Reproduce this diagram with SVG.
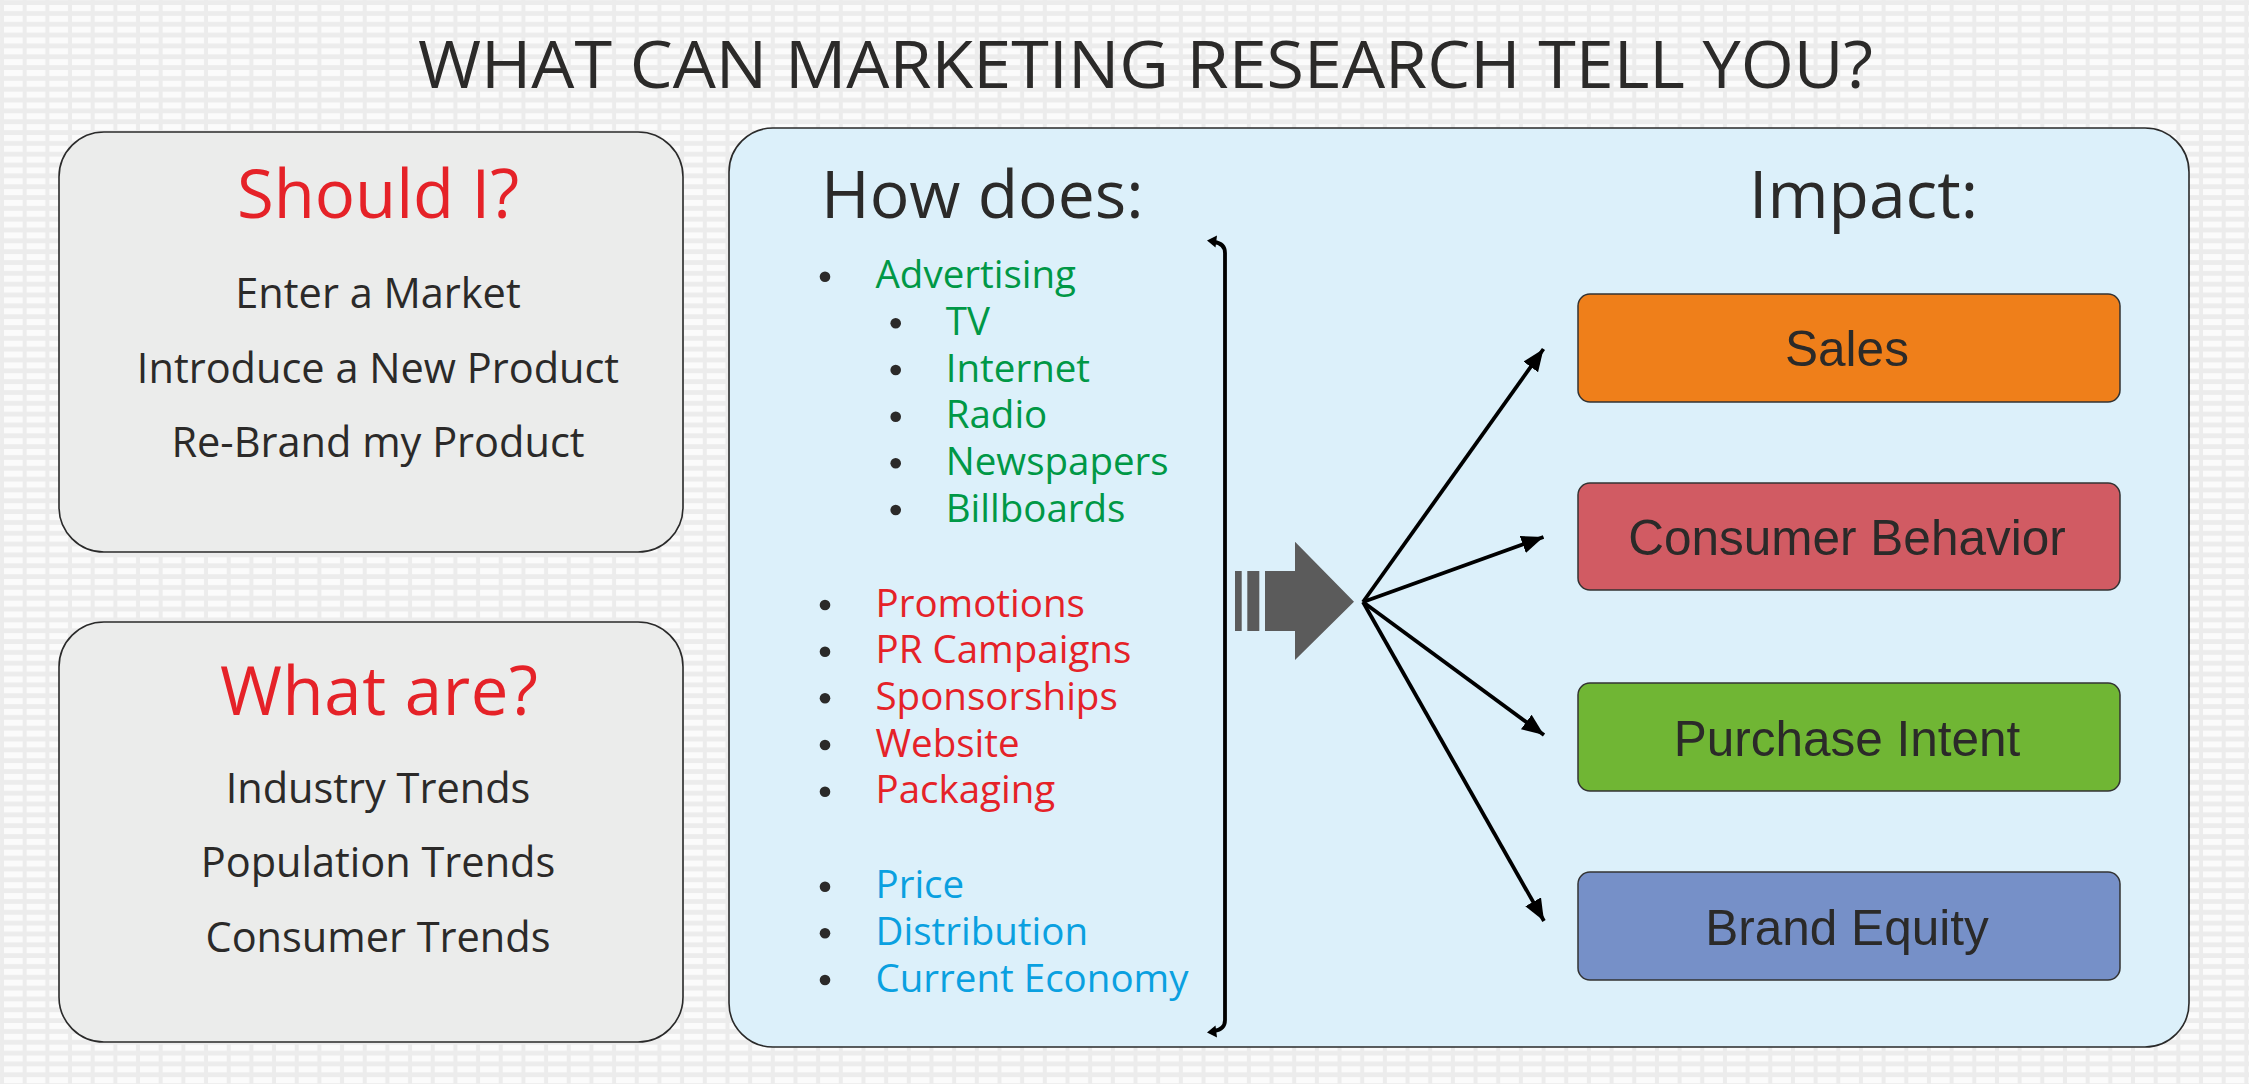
<svg xmlns="http://www.w3.org/2000/svg" width="2249" height="1084" viewBox="0 0 2249 1084">
<defs>
<pattern id="dash" patternUnits="userSpaceOnUse" x="4" y="5" width="22.67" height="10.83">
<rect x="0" y="0" width="18.67" height="6" fill="#fbfbfb"/>
</pattern>
<marker id="ah" markerUnits="userSpaceOnUse" markerWidth="24" markerHeight="20" refX="22" refY="9" orient="auto">
<path d="M0,0 L22,9 L0,18 Z" fill="#000"/>
</marker>
</defs>
<style>
.frut{font-family:"Open Sans","Noto Sans",sans-serif}
.ar{font-family:"Liberation Sans",Arial,sans-serif;font-size:49.5px;fill:#2b2a29;text-anchor:middle}
.dark{fill:#2b2a29}
.red{fill:#e52228}
.grn{fill:#009846}
.blu{fill:#0aa0e0}
.panel{stroke:#2a2a2a;stroke-width:1.6}
.imp{stroke:#333;stroke-width:1.5}
.bul{fill:#2b2a29}
.li{font-size:38.5px}
.conn{stroke:#000;stroke-width:3.8;fill:none}
</style>
<rect width="2249" height="1084" fill="#ececec"/>
<rect width="2249" height="1084" fill="url(#dash)"/>

<text class="frut dark" x="418" y="88" font-size="66" textLength="1455" lengthAdjust="spacingAndGlyphs">WHAT CAN MARKETING RESEARCH TELL YOU?</text>

<g id="should">
<rect class="panel" x="59" y="132" width="624" height="420" rx="45" fill="#ebeceb"/>
<text class="frut red" x="378" y="218" font-size="67" text-anchor="middle">Should I?</text>
<text class="frut dark" x="378" y="308" font-size="41.5" text-anchor="middle">Enter a Market</text>
<text class="frut dark" x="378" y="383" font-size="41.5" text-anchor="middle">Introduce a New Product</text>
<text class="frut dark" x="378" y="457" font-size="41.5" text-anchor="middle">Re-Brand my Product</text>
</g>

<g id="whatare">
<rect class="panel" x="59" y="622" width="624" height="420" rx="45" fill="#ebeceb"/>
<text class="frut red" x="379" y="715" font-size="67" text-anchor="middle" textLength="318">What are?</text>
<text class="frut dark" x="378" y="803" font-size="41.5" text-anchor="middle">Industry Trends</text>
<text class="frut dark" x="378" y="877" font-size="41.5" text-anchor="middle">Population Trends</text>
<text class="frut dark" x="378" y="952" font-size="41.5" text-anchor="middle">Consumer Trends</text>
</g>

<g id="main">
<rect class="panel" x="729" y="128" width="1460" height="919" rx="44" fill="#dcf0fa"/>
<text class="frut dark" x="821" y="218" font-size="66">How does:</text>
<text class="frut dark" x="1749" y="218" font-size="66">Impact:</text>
</g>

<g id="list">
<g class="bul">
<circle cx="825" cy="276.7" r="5.3"/>
<circle cx="895.7" cy="323.3" r="5.3"/>
<circle cx="895.7" cy="370" r="5.3"/>
<circle cx="895.7" cy="416.7" r="5.3"/>
<circle cx="895.7" cy="463.3" r="5.3"/>
<circle cx="895.7" cy="510" r="5.3"/>
<circle cx="825" cy="605" r="5.3"/>
<circle cx="825" cy="651.7" r="5.3"/>
<circle cx="825" cy="698.3" r="5.3"/>
<circle cx="825" cy="745" r="5.3"/>
<circle cx="825" cy="791.7" r="5.3"/>
<circle cx="825" cy="886.7" r="5.3"/>
<circle cx="825" cy="933.3" r="5.3"/>
<circle cx="825" cy="980" r="5.3"/>
</g>
<g class="frut li">
<text class="grn" x="875.5" y="288.3">Advertising</text>
<text class="grn" x="945.7" y="335">TV</text>
<text class="grn" x="945.7" y="381.7">Internet</text>
<text class="grn" x="945.7" y="428.3">Radio</text>
<text class="grn" x="945.7" y="475">Newspapers</text>
<text class="grn" x="945.7" y="521.7">Billboards</text>
<text class="red" x="875.5" y="616.7">Promotions</text>
<text class="red" x="875.5" y="663.3">PR Campaigns</text>
<text class="red" x="875.5" y="710">Sponsorships</text>
<text class="red" x="875.5" y="756.7">Website</text>
<text class="red" x="875.5" y="803.3">Packaging</text>
<text class="blu" x="875.5" y="898.3">Price</text>
<text class="blu" x="875.5" y="945">Distribution</text>
<text class="blu" x="875.5" y="991.7">Current Economy</text>
</g>
</g>

<g id="brace">
<path class="conn" d="M1225,1020 V253 Q1225,243.5 1214,242"/>
<path d="M1207,240.5 L1217,235.5 L1215.5,247.5 Z" fill="#000"/>
<path class="conn" d="M1225,1020 Q1225,1029.5 1214,1031"/>
<path d="M1207,1032.5 L1217,1037.5 L1215.5,1025.5 Z" fill="#000"/>
</g>

<g id="bigarrow" fill="#5b5b5b">
<rect x="1235" y="571" width="6.7" height="60"/>
<rect x="1247.3" y="571" width="12" height="60"/>
<path d="M1265,571 H1295 V541.7 L1354,601.7 L1295,660 V631 H1265 Z"/>
</g>

<g id="connectors">
<line class="conn" x1="1363" y1="602" x2="1543.5" y2="349" marker-end="url(#ah)"/>
<line class="conn" x1="1363" y1="602" x2="1543.5" y2="537" marker-end="url(#ah)"/>
<line class="conn" x1="1363" y1="602" x2="1544" y2="735" marker-end="url(#ah)"/>
<line class="conn" x1="1363" y1="602" x2="1544" y2="921" marker-end="url(#ah)"/>
</g>

<g id="sales">
<rect class="imp" x="1578" y="294" width="542" height="108" rx="12" fill="#ef7f1a"/>
<text class="ar" x="1847" y="366">Sales</text>
</g>
<g id="behavior">
<rect class="imp" x="1578" y="483" width="542" height="107" rx="12" fill="#d15b63"/>
<text class="ar" x="1847" y="555">Consumer Behavior</text>
</g>
<g id="intent">
<rect class="imp" x="1578" y="683" width="542" height="108" rx="12" fill="#70b634"/>
<text class="ar" x="1847" y="756">Purchase Intent</text>
</g>
<g id="equity">
<rect class="imp" x="1578" y="872" width="542" height="108" rx="12" fill="#7690c8"/>
<text class="ar" x="1847" y="945">Brand Equity</text>
</g>
</svg>
